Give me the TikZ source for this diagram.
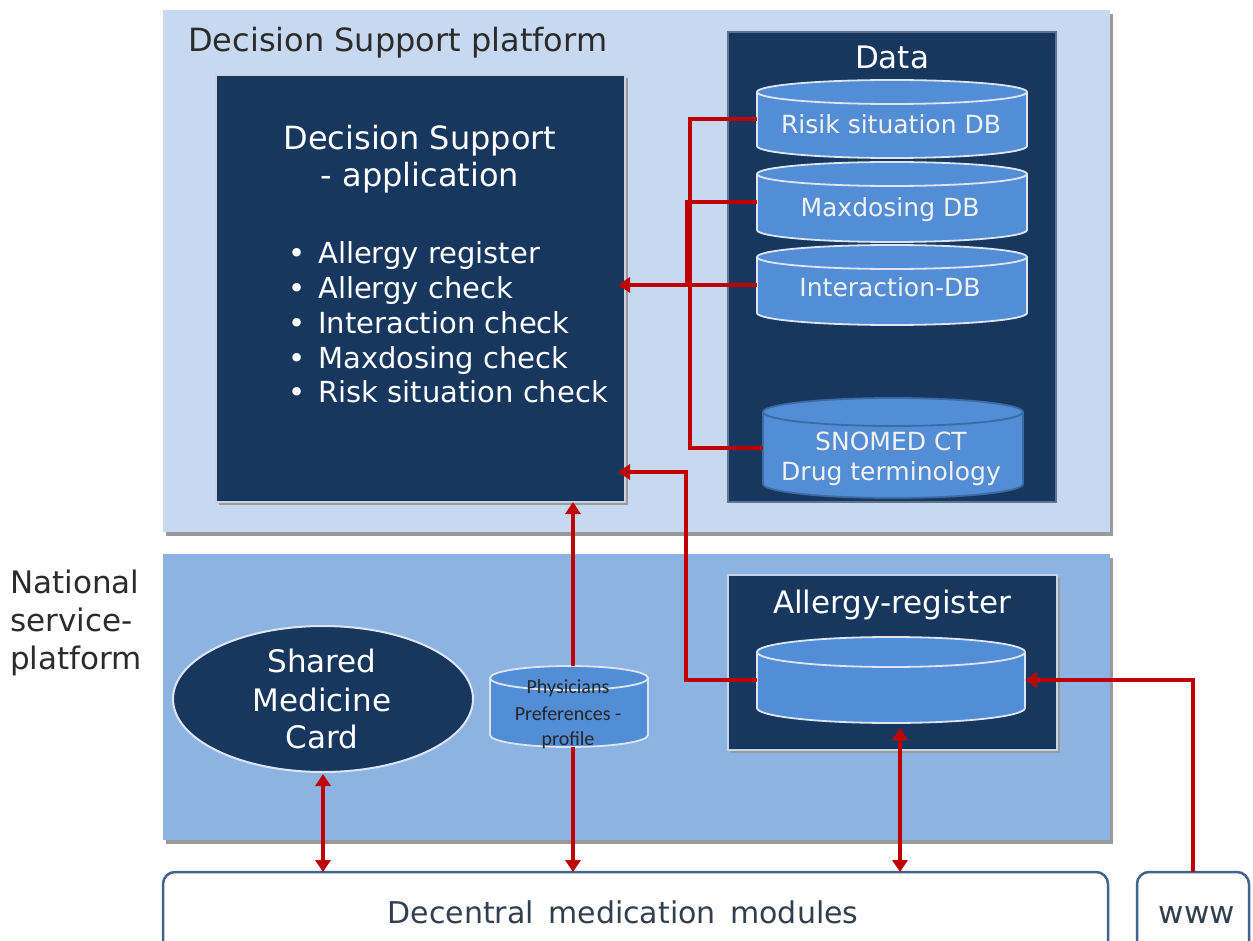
\documentclass[tikz,border=0pt]{standalone}
\usepackage{fontspec}
\setmainfont{DejaVu Sans}
\newfontfamily\calib{Carlito}
\usetikzlibrary{arrows.meta,shapes.geometric,calc}
\definecolor{lightplat}{HTML}{C6D9F1}
\definecolor{natplat}{HTML}{8DB3E2}
\definecolor{navy}{HTML}{17375E}
\definecolor{dbblue}{HTML}{538DD5}
\definecolor{redc}{HTML}{C00000}
\definecolor{edgeblue}{HTML}{41648F}
\definecolor{darktext}{HTML}{2B2B2B}
\definecolor{dectext}{HTML}{333F4F}
\definecolor{cylline}{HTML}{DCE6F2}
\definecolor{boxline}{HTML}{C8D4E4}
\definecolor{shadowc}{HTML}{9A9A9A}
\newcommand\dbcyl[7]{%
  \filldraw[fill=dbblue,draw=#7,line width=1.8pt] (#2,#4-#6) ellipse [x radius=#5, y radius=#6];
  \fill[dbblue] (#2-#5,#3+#6) rectangle (#2+#5,#4-#6);
  \draw[#7,line width=1.8pt] (#2-#5,#3+#6) -- (#2-#5,#4-#6) (#2+#5,#3+#6) -- (#2+#5,#4-#6);
  \filldraw[fill=dbblue,draw=#7,line width=1.8pt] (#2,#3+#6) ellipse [x radius=#5, y radius=#6];
  \node[inner sep=0pt,outer sep=0pt,minimum width={2*#5*1pt},minimum height={(#4-#3)*1pt}] (#1) at (#2,{(#3+#4)/2}) {};
}
\begin{document}
\begin{tikzpicture}[x=1pt,y=-1pt,
  >={Triangle[length=12pt,width=15pt]},
  rl/.style={draw=redc,line width=3.2pt},
  wtxt/.style={inner sep=0pt,text=white},
  box/.style={anchor=north west,inner sep=0pt,outer sep=0pt},
  darkbox/.style={box,fill=navy,draw=boxline,line width=1.5pt}]
\useasboundingbox (0,0) rectangle (1253,941);
\fill[white] (0,0) rectangle (1253,941);

% platforms
\fill[shadowc] (166,14) rectangle (1113,536);
\node[box,fill=lightplat,minimum width=947pt,minimum height=522pt] (dsp) at (163,10) {};
\fill[shadowc] (166,558) rectangle (1113,844);
\node[box,fill=natplat,minimum width=947pt,minimum height=286pt] (nsp) at (163,554) {};

\node[anchor=base west,inner sep=0pt,text=darktext,font=\fontsize{32}{38}\selectfont] (dsptitle) at (188,52) {Decision Support platform};
\node[anchor=base west,inner sep=0pt,text=darktext,align=left,font=\fontsize{31}{38}\selectfont] (nsptitle1) at (10,593) {National};
\node[anchor=base west,inner sep=0pt,text=darktext,font=\fontsize{31}{38}\selectfont] (nsptitle2) at (10,631) {service-};
\node[anchor=base west,inner sep=0pt,text=darktext,font=\fontsize{31}{38}\selectfont] (nsptitle3) at (10,669) {platform};

% application box
\fill[shadowc] (219,78) rectangle (628,505);
\node[darkbox,minimum width=409pt,minimum height=427pt] (app) at (216,75) {};
\node[wtxt,anchor=base,font=\fontsize{32}{38}\selectfont] (apptitle1) at (420,150) {Decision Support};
\node[wtxt,anchor=base,font=\fontsize{32}{38}\selectfont] (apptitle2) at (420,187) {- application};
\foreach \t [count=\i] in {Allergy register,Allergy check,Interaction check,Maxdosing check,Risk situation check}{
  \node[wtxt,anchor=base,font=\fontsize{29}{35}\selectfont] (bul\i) at (297,{264+34.7*(\i-1)}) {•};
  \node[wtxt,anchor=base west,font=\fontsize{29}{35}\selectfont] (item\i) at (318,{264+34.7*(\i-1)}) {\t};
}

% data box
\node[darkbox,draw=navy!70!white,minimum width=328pt,minimum height=470pt] (data) at (728,32) {};
\node[wtxt,anchor=base,font=\fontsize{31}{38}\selectfont] (datatitle) at (892,69) {Data};
\dbcyl{risk}{892}{80}{158}{135}{12}{cylline}
\dbcyl{maxd}{892}{162}{242}{135}{12}{cylline}
\dbcyl{inter}{892}{245}{325}{135}{12}{cylline}
\dbcyl{snomed}{893}{398}{498}{130}{14}{navy!40!dbblue}
\node[wtxt,text=white!95!black,anchor=base,font=\fontsize{25}{30}\selectfont] (risklbl) at (891,134) {Risik situation DB};
\node[wtxt,text=white!95!black,anchor=base,font=\fontsize{25}{30}\selectfont] (maxdlbl) at (890,217) {Maxdosing DB};
\node[wtxt,text=white!95!black,anchor=base,font=\fontsize{25}{30}\selectfont] (interlbl) at (890,297) {Interaction-DB};
\node[wtxt,text=white!95!black,anchor=base,font=\fontsize{25}{30}\selectfont] (snomedlbl1) at (891,450) {SNOMED CT};
\node[wtxt,text=white!95!black,anchor=base,font=\fontsize{25}{30}\selectfont] (snomedlbl2) at (891,480) {Drug terminology};

% allergy register
\fill[shadowc] (731,578) rectangle (1060,753);
\node[darkbox,minimum width=329pt,minimum height=175pt] (abox) at (728,575) {};
\node[wtxt,anchor=base,font=\fontsize{31}{38}\selectfont] (aboxtitle) at (892,613) {Allergy-register};
\dbcyl{acyl}{891}{637}{723}{134}{15}{cylline}

% shared medicine card
\node[ellipse,fill=navy,draw=cylline,line width=2pt,minimum width=300pt,minimum height=146pt,inner sep=0pt] (smc) at (323,699) {};
\node[wtxt,anchor=base,font=\fontsize{31}{38}\selectfont] (smc1) at (322,672) {Shared};
\node[wtxt,anchor=base,font=\fontsize{31}{38}\selectfont] (smc2) at (322,711) {Medicine};
\node[wtxt,anchor=base,font=\fontsize{31}{38}\selectfont] (smc3) at (322,748) {Card};

% physicians preferences
\dbcyl{phys}{569}{666}{747}{79}{12}{cylline}
\node[inner sep=0pt,text=black!85,anchor=base,font=\calib\fontsize{20}{25}\selectfont] (phys1) at (568,693) {Physicians};
\node[inner sep=0pt,text=black!85,anchor=base,font=\calib\fontsize{20}{25}\selectfont] (phys2) at (568,720) {Preferences -};
\node[inner sep=0pt,text=black!85,anchor=base,font=\calib\fontsize{20}{25}\selectfont] (phys3) at (568,745) {profile};

% bottom boxes
\node[box,fill=white,draw=edgeblue,line width=2.5pt,rounded corners=12pt,minimum width=945pt,minimum height=100pt] (dec) at (163,872) {};
\node[inner sep=0pt,text=dectext,anchor=base,font=\fontsize{30}{36}\selectfont] (declbl) at (623,923) {Decentral\hspace{5pt} medication\hspace{5pt} modules};
\node[box,fill=white,draw=edgeblue,line width=2.5pt,rounded corners=12pt,minimum width=112pt,minimum height=100pt] (www) at (1137,872) {};
\node[inner sep=0pt,text=dectext,anchor=base,font=\fontsize{31}{36}\selectfont] (wwwlbl) at (1197,923) {www};

% connectors
\coordinate (busA) at (687,0);
\coordinate (busB) at (690,0);
\coordinate (busC) at (686,472);
\coordinate (physx) at (573,0);
\coordinate (aconn) at (900,0);
\draw[rl] (risk.west) -- (risk.west -| busB) -- (snomed.west -| busB) -- (snomed.west);
\draw[rl] (maxd.west) -- (maxd.west -| busA) -- (inter.west -| busA);
\draw[rl,->,shorten >=-7pt] (inter.west) -- (inter.west -| app.east);
\draw[rl,->,shorten >=-7pt] (acyl.west) -| (busC) -- (busC -| app.east);
\draw[rl,->] (www.north) |- (acyl.east);
\draw[rl,<->,shorten <=5pt] (acyl.south -| aconn) -- (dec.north -| aconn);
\draw[rl,<->,shorten <=1pt] (smc.south) -- (smc.south |- dec.north);
\draw[rl,->] (phys.north -| physx) -- (app.south -| physx);
\draw[rl,->] (phys.south -| physx) -- (dec.north -| physx);
\end{tikzpicture}
\end{document}
